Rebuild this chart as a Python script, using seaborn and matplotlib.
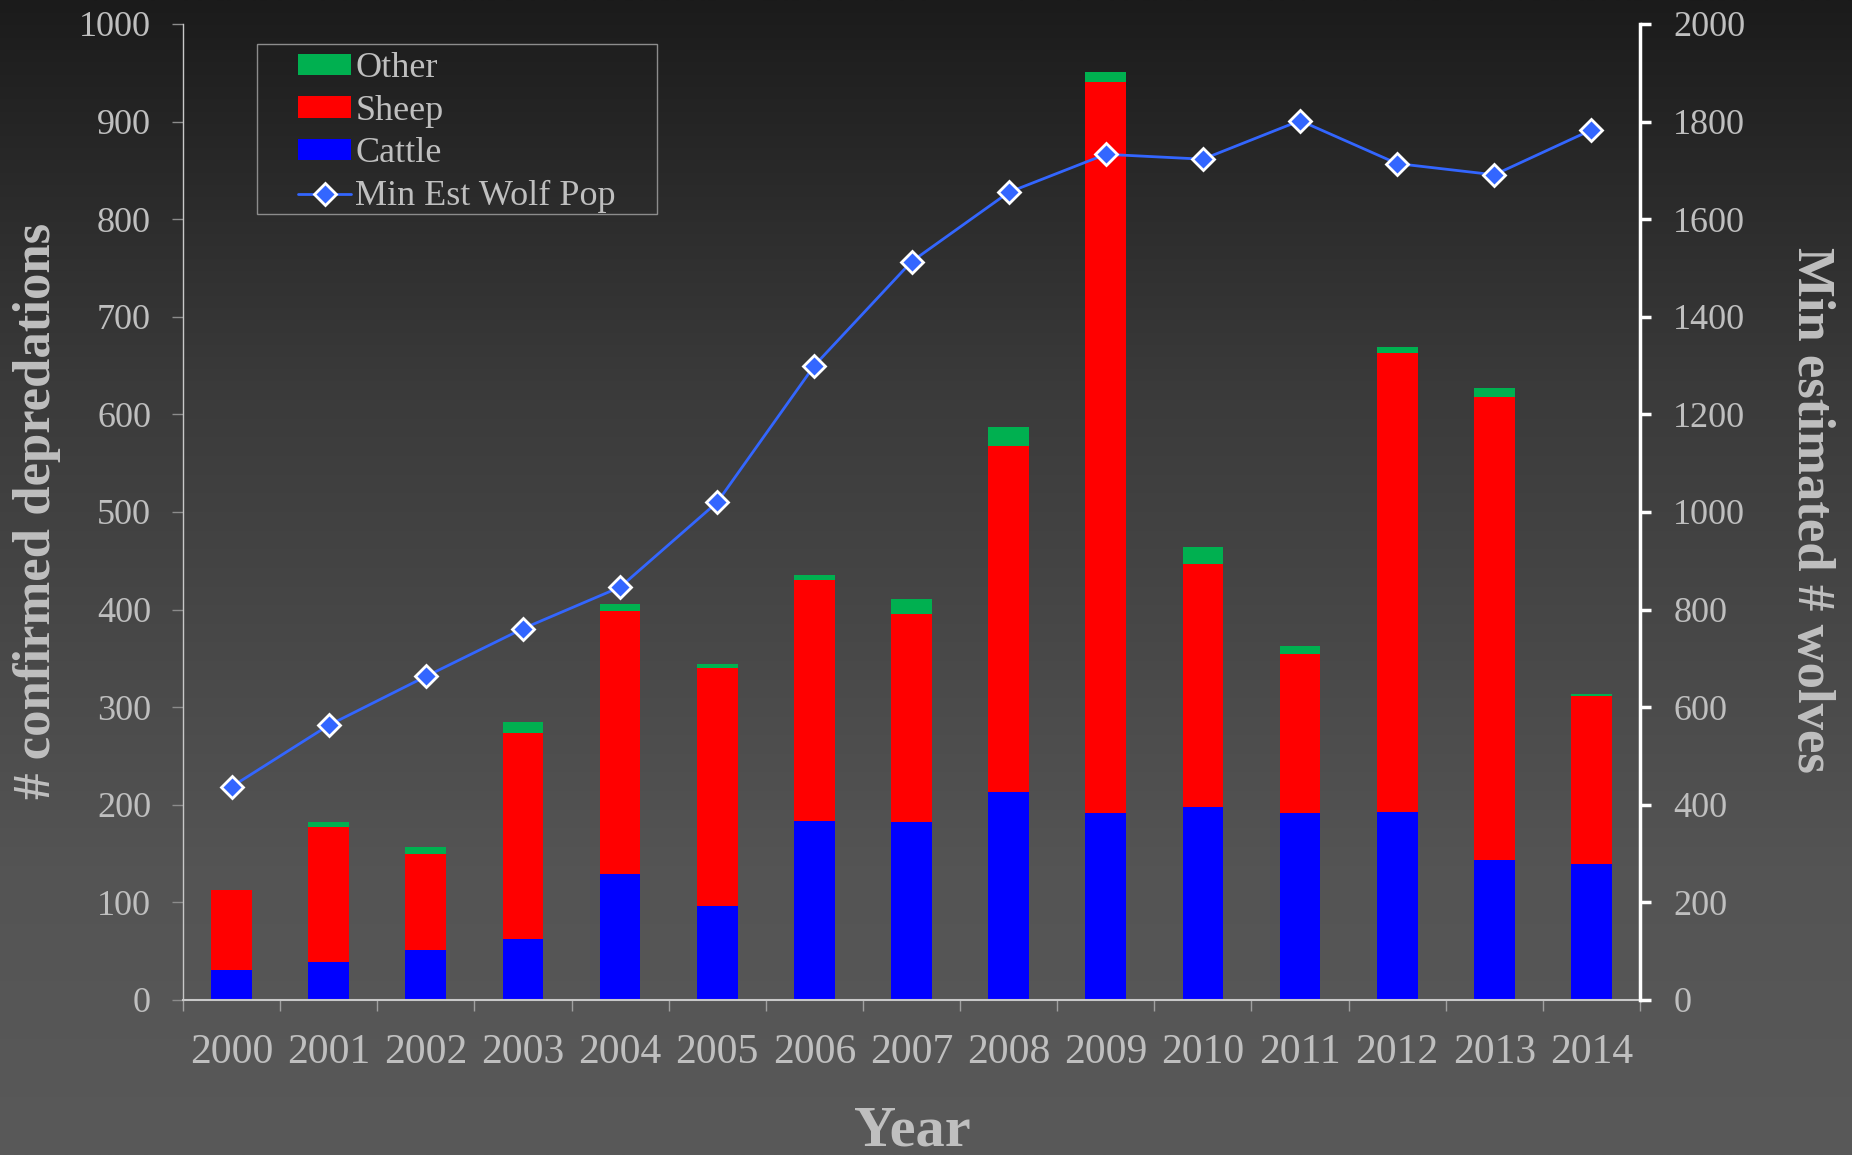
import numpy as np
import pandas as pd
import matplotlib
matplotlib.use("Agg")
import matplotlib.pyplot as plt
from matplotlib.patches import Patch, Rectangle
from matplotlib.lines import Line2D
import seaborn as sns

# ---- data ----
years = ["2000", "2001", "2002", "2003", "2004", "2005", "2006", "2007",
         "2008", "2009", "2010", "2011", "2012", "2013", "2014"]
cattle = [31, 39, 51, 63, 129, 96, 183, 182, 213, 192, 198, 192, 193, 143, 139]
sheep = [82, 138, 99, 211, 270, 244, 247, 213, 355, 749, 249, 162, 470, 475, 172]
other = [0, 5, 7, 11, 7, 4, 5, 16, 19, 10, 17, 9, 6, 9, 3]
wolves = [437, 563, 663, 761, 846, 1020, 1300, 1513, 1655, 1733, 1723, 1802, 1714, 1691, 1783]

left_ticks = list(range(0, 1001, 100))
right_ticks = list(range(0, 2001, 200))

df = pd.DataFrame({"Year": years, "Cattle": cattle, "Sheep": sheep, "Other": other})
df["CS"] = df["Cattle"] + df["Sheep"]
df["Total"] = df["CS"] + df["Other"]

sns.set_style("ticks")
plt.rcParams["font.family"] = ["Liberation Serif", "DejaVu Serif"]

W, H = 1852, 1155
fig = plt.figure(figsize=(W / 100, H / 100), dpi=100)

# gradient background
bg = fig.add_axes([0, 0, 1, 1], zorder=-10)
stops_y = [0.0, 0.33, 0.75, 1.0]
stops_v = [27, 58, 84, 89]
yy = np.linspace(0, 1, 600)
vals = np.interp(yy, stops_y, stops_v) / 255.0
grad = np.repeat(vals[:, None], 2, axis=1)
bg.imshow(np.dstack([grad, grad, grad]), aspect="auto", extent=[0, 1, 1, 0])
bg.set_xlim(0, 1)
bg.set_ylim(1, 0)
bg.axis("off")

L, R = 183 / W, 1640 / W
B, T = 1 - 1000 / H, 1 - 24 / H
ax = fig.add_axes([L, B, R - L, T - B])
ax.set_facecolor("none")

GREEN, RED, BLUE = "#00b050", "#ff0000", "#0000ff"
LINE = "#3366ff"
TXT = "#bfbfbf"

sns.barplot(data=df, x="Year", y="Total", color=GREEN, width=0.42, saturation=1,
            errorbar=None, ax=ax, linewidth=0)
sns.barplot(data=df, x="Year", y="CS", color=RED, width=0.42, saturation=1,
            errorbar=None, ax=ax, linewidth=0)
sns.barplot(data=df, x="Year", y="Cattle", color=BLUE, width=0.42, saturation=1,
            errorbar=None, ax=ax, linewidth=0)

ax.set_xlim(-0.5, len(years) - 0.5)
ax.set_ylim(0, 1000)
ax.set_yticks(left_ticks)
ax.set_xlabel("")
ax.set_ylabel("")
for s in ["top", "right"]:
    ax.spines[s].set_visible(False)
ax.spines["left"].set_color("#c8c8c8")
ax.spines["left"].set_linewidth(1.0)
ax.spines["bottom"].set_color("#c8c8c8")
ax.spines["bottom"].set_linewidth(1.5)
ax.tick_params(axis="y", colors="#8c8c8c", length=8, width=1, direction="out",
               labelcolor=TXT, labelsize=26, pad=15)
ax.tick_params(axis="x", which="major", length=0, labelcolor=TXT, labelsize=30, pad=24)
ax.set_xticks(np.arange(-0.5, len(years), 1.0), minor=True)
ax.tick_params(axis="x", which="minor", length=8, width=1, color="#a0a0a0", direction="out")

ax2 = ax.twinx()
ax2.set_facecolor("none")
sns.lineplot(x=np.arange(len(years)), y=wolves, ax=ax2, color=LINE, lw=2.0,
             marker="D", markersize=11, markerfacecolor=LINE,
             markeredgecolor="white", markeredgewidth=2)
ax2.set_ylim(0, 2000)
ax2.set_yticks(right_ticks)
ax2.set_xlim(-0.5, len(years) - 0.5)
for s in ["top", "left", "bottom"]:
    ax2.spines[s].set_visible(False)
ax2.spines["right"].set_color("white")
ax2.spines["right"].set_linewidth(2.5)
ax2.tick_params(axis="y", colors="white", length=8, width=2.5, direction="out",
                labelcolor=TXT, labelsize=26, pad=16)
ax2.set_ylabel("")

# axis titles
fig.text(37 / W, 1 - 511 / H, "# confirmed depredations", rotation=90, ha="center",
         va="center", fontsize=38, fontweight="bold", color=TXT)
fig.text(1811 / W, 1 - 510 / H, "Min estimated # wolves", rotation=270, ha="center",
         va="center", fontsize=38, fontweight="bold", color=TXT)
fig.text(912 / W, 1 - 1145 / H, "Year", ha="center", va="baseline",
         fontsize=42, fontweight="bold", color=TXT)

# legend
handles = [Patch(facecolor=GREEN, edgecolor="none"),
           Patch(facecolor=RED, edgecolor="none"),
           Patch(facecolor=BLUE, edgecolor="none"),
           Line2D([0], [0], color=LINE, lw=2.0, marker="D", markersize=11,
                  markerfacecolor=LINE, markeredgecolor="white", markeredgewidth=2)]
labels = ["Other", "Sheep", "Cattle", "Min Est Wolf Pop"]
leg = fig.legend(handles, labels, loc="upper left", bbox_to_anchor=(298 / W, 1 - 52 / H),
                 frameon=False, borderpad=0, borderaxespad=0, fontsize=26,
                 handlelength=1.47, handleheight=0.53, handletextpad=0.12,
                 labelspacing=0.27)
for t in leg.get_texts():
    t.set_color(TXT)
fig.patches.append(Rectangle((257 / W, 1 - 214 / H), 400 / W, 170 / H,
                             transform=fig.transFigure, fill=False,
                             edgecolor="#8c8c8c", lw=1))

fig.savefig("out.png", dpi=100)
